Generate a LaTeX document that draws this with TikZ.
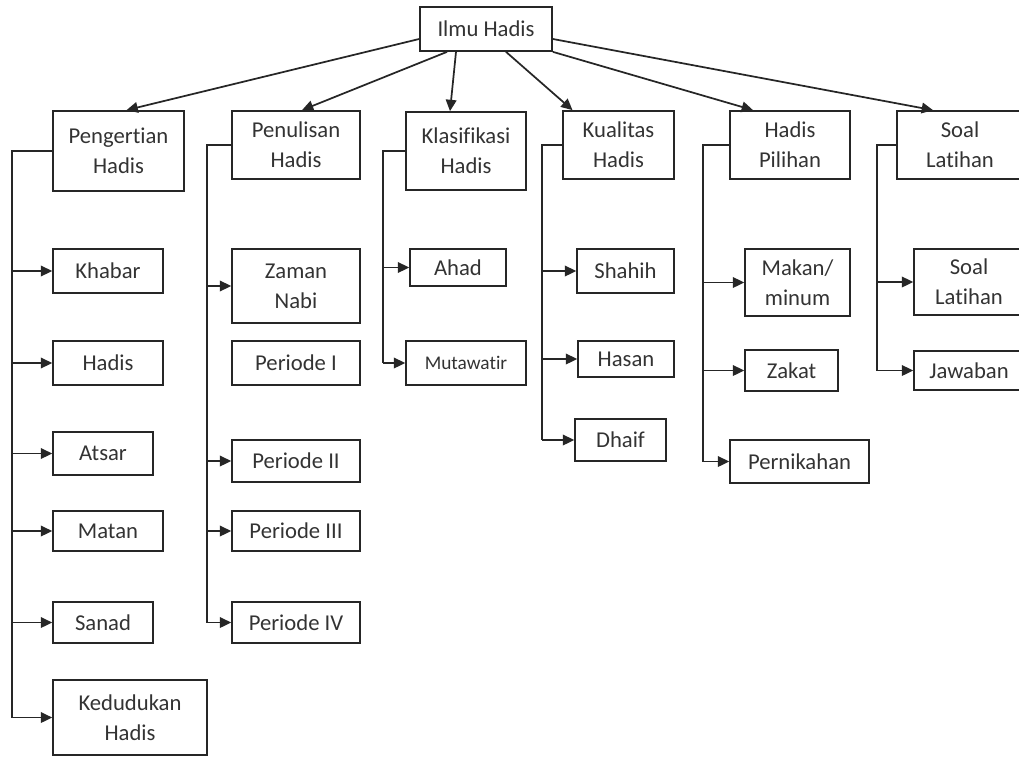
\documentclass[tikz,border=0pt]{standalone}
\usepackage{fontspec}
\setmainfont[Ligatures=NoCommon]{Carlito}
\usetikzlibrary{positioning,calc,arrows.meta}

\begin{document}
\begin{tikzpicture}[x=0.75pt, y=-0.75pt, >={Triangle[length=8.5pt,width=8pt]},
	line width=1.3pt, draw=black!85,
	sz/.style 2 args={minimum width=#1*0.75pt, minimum height=#2*0.75pt}]
	\useasboundingbox (0,0) rectangle (1019,756);
	\tikzstyle{every node}=[draw, align=center, inner sep=1pt, text=black!80,
		font=\fontsize{17}{22.5}\selectfont]

	% top
	\node[sz={132}{44}] (ilmu) at (486,29) {Ilmu Hadis};

	% parents
	\node[sz={131}{80}] (peng) at (118.5,151) {Pengertian\\Hadis};
	\node[sz={128}{68}] (penu) at (296,145) {Penulisan\\Hadis};
	\node[sz={120}{78}] (klas) at (466,151) {Klasifikasi\\Hadis};
	\node[sz={111}{68}] (kual) at (618.5,145) {Kualitas\\Hadis};
	\node[sz={120}{68}] (pilih) at (790,145) {Hadis\\Pilihan};
	\node[sz={126}{68}] (soal) at (960,145) {Soal\\Latihan};

	% pengertian
	\node[sz={110}{44}] (khabar) at (108,271) {Khabar};
	\node[sz={110}{44}] (hadis) at (108,363) {Hadis};
	\node[sz={100}{43}] (atsar) at (103,453.5) {Atsar};
	\node[sz={110}{40}] (matan) at (108,531) {Matan};
	\node[sz={100}{41}] (sanad) at (103,622.5) {Sanad};
	\node[sz={154}{75}] (kedud) at (130,717.5) {Kedudukan\\Hadis};

	% penulisan
	\node[sz={128}{74}] (zaman) at (296,286) {Zaman\\Nabi};
	\node[sz={128}{44}] (per1) at (296,363) {Periode I};
	\node[sz={128}{42}] (per2) at (296,461) {Periode II};
	\node[sz={128}{40}] (per3) at (296,531) {Periode III};
	\node[sz={128}{41}] (per4) at (296,622.5) {Periode IV};

	% klasifikasi
	\node[sz={96}{37}] (ahad) at (458,267.5) {Ahad};
	\node[sz={120}{44}, font=\fontsize{14.5}{17}\selectfont] (mutaw) at (466,363) {Mutawatir};

	% kualitas
	\node[sz={97}{44}] (shahih) at (625.5,271) {Shahih};
	\node[sz={96}{36}] (hasan) at (626,359) {Hasan};
	\node[sz={91}{42}] (dhaif) at (620.5,440) {Dhaif};

	% pilihan
	\node[sz={105}{67}] (makan) at (797.5,282.5) {Makan/\\minum};
	\node[sz={93}{41}] (zakat) at (791.5,370.5) {Zakat};
	\node[sz={139}{43}] (nikah) at (799.5,461.5) {Pernikahan};

	% soal latihan
	\node[sz={110}{66}] (latih) at (969,282) {Soal\\Latihan};
	\node[sz={110}{39}] (jawab) at (969,370.5) {Jawaban};

	\coordinate (pengL) at (12,0);
	\coordinate (penuL) at (207,0);
	\coordinate (klasL) at (383,0);
	\coordinate (kualL) at (542,0);
	\coordinate (pilihL) at (703,0);
	\coordinate (soalL) at (877,0);

	\draw[->] ($(ilmu.west)+(0,10)$) to ($(peng.north)+(8,0)$);
	\draw[->] ($(ilmu.south)+(-39,0)$) to ($(penu.north)+(6,0)$);
	\draw[->] ($(ilmu.south)+(-30,0)$) to ($(klas.north)+(-16,0)$);
	\draw[->] ($(ilmu.south)+(20,0)$) to ($(kual.north)+(-46,0)$);
	\draw[->] (ilmu.south east) to ($(pilih.north)+(-37,0)$);
	\draw[->] ($(ilmu.east)+(0,10)$) to ($(soal.north)+(-27,0)$);

	\draw (peng.west) -| (pengL |- kedud.west);
	\draw[->] (pengL |- khabar.west) to (khabar.west);
	\draw[->] (pengL |- hadis.west) to (hadis.west);
	\draw[->] (pengL |- atsar.west) to (atsar.west);
	\draw[->] (pengL |- matan.west) to (matan.west);
	\draw[->] (pengL |- sanad.west) to (sanad.west);
	\draw[->] (pengL |- kedud.west) to (kedud.west);

	\draw (penu.west) -| (penuL |- per4.west);
	\draw[->] (penuL |- zaman.west) to (zaman.west);
	\draw[->] (penuL |- per2.west) to (per2.west);
	\draw[->] (penuL |- per3.west) to (per3.west);
	\draw[->] (penuL |- per4.west) to (per4.west);

	\draw (klas.west) -| (klasL |- mutaw.west);
	\draw[->] (klasL |- ahad.west) to (ahad.west);
	\draw[->] (klasL |- mutaw.west) to (mutaw.west);

	\draw (kual.west) -| (kualL |- dhaif.west);
	\draw[->] (kualL |- shahih.west) to (shahih.west);
	\draw[->] (kualL |- hasan.west) to (hasan.west);
	\draw[->] (kualL |- dhaif.west) to (dhaif.west);

	\draw (pilih.west) -| (pilihL |- nikah.west);
	\draw[->] (pilihL |- makan.west) to (makan.west);
	\draw[->] (pilihL |- zakat.west) to (zakat.west);
	\draw[->] (pilihL |- nikah.west) to (nikah.west);

	\draw (soal.west) -| (soalL |- jawab.west);
	\draw[->] (soalL |- latih.west) to (latih.west);
	\draw[->] (soalL |- jawab.west) to (jawab.west);
\end{tikzpicture}
\end{document}
